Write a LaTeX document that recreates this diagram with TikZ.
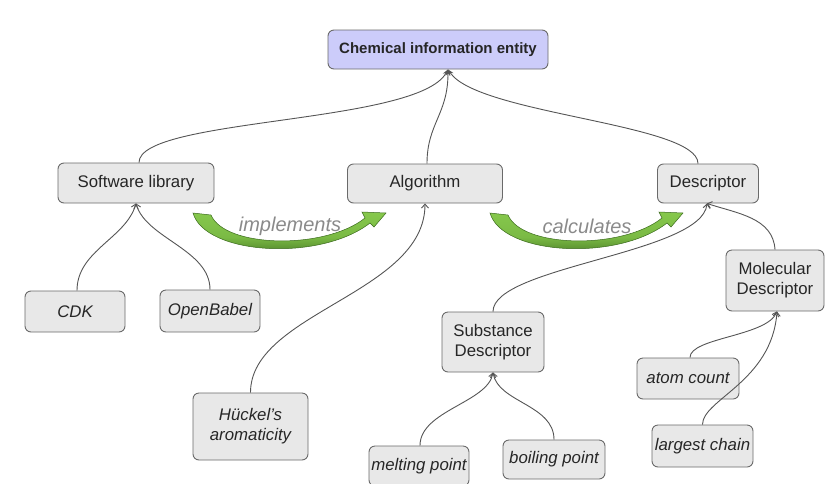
\documentclass[tikz,border=0pt]{standalone}
\usepackage{fontspec}
\setmainfont{Liberation Sans}
\usetikzlibrary{arrows.meta}
\definecolor{boxfill}{HTML}{E8E8E8}
\definecolor{boxline}{HTML}{6A6A6A}
\definecolor{chemfill}{HTML}{CCCCFA}
\definecolor{txt}{HTML}{262626}
\definecolor{lnk}{HTML}{555555}
\definecolor{gdark}{HTML}{3A6A1C}
\definecolor{glight}{HTML}{86C84C}
\definecolor{lbl}{HTML}{8A8A8A}
\tikzset{
  box/.style={draw=boxline, fill=boxfill, rounded corners=6pt, line width=0.9pt,
    text=txt, align=center, inner sep=1pt, font=\fontsize{16.8}{20}\selectfont},
  ibox/.style={box, font=\fontsize{16.8}{20}\selectfont\itshape},
  link/.style={draw=lnk, line width=0.9pt, -{Straight Barb[length=4pt,width=7pt]}},
  chemlink/.style={draw=lnk, line width=0.9pt, -{Stealth[length=6pt,width=5pt]}},
  greenarrow/.style={top color=glight, bottom color=gdark, middle color=glight!85!gdark, draw=gdark, line width=0.5pt},
  rellabel/.style={text=lbl, font=\fontsize{20}{24}\selectfont\itshape},
}
\begin{document}
\begin{tikzpicture}[x=1pt,y=-1pt]
\useasboundingbox (0,0) rectangle (825,483);

\node[box, fill=chemfill, font=\fontsize{15}{18}\selectfont\bfseries, minimum width=220pt, minimum height=39pt] (chem) at (438,49.5) {Chemical information entity};
\node[box, minimum width=156pt, minimum height=40pt] (sw) at (136,183) {Software library};
\node[box, minimum width=155pt, minimum height=39pt] (alg) at (425,183.5) {Algorithm};
\node[box, minimum width=101pt, minimum height=39pt] (desc) at (708,183.5) {Descriptor};
\node[ibox, minimum width=100pt, minimum height=41pt] (cdk) at (75,311.5) {CDK};
\node[ibox, minimum width=100pt, minimum height=42pt] (ob) at (210,311) {OpenBabel};
\node[ibox, minimum width=115pt, minimum height=67pt] (hk) at (250.5,426.5) {Hückel's\\aromaticity};
\node[box, minimum width=102pt, minimum height=60pt] (sub) at (493,342) {Substance\\Descriptor};
\node[ibox, minimum width=100pt, minimum height=40pt] (mp) at (419,466) {melting point};
\node[ibox, minimum width=102pt, minimum height=39pt] (bp) at (554,459.5) {boiling point};
\node[box, minimum width=98pt, minimum height=61pt] (mol) at (775,280.5) {Molecular\\Descriptor};
\node[ibox, minimum width=102pt, minimum height=41pt] (ac) at (688,378.5) {atom count};
\node[ibox, minimum width=101pt, minimum height=42pt] (lc) at (702.5,446) {largest chain};

\coordinate (chemtip) at ([xshift=10pt]chem.south);
\coordinate (desctip) at ([xshift=-1pt]desc.south);
\coordinate (subtip) at (sub.south);
\coordinate (moltip) at ([xshift=2pt]mol.south);

% to the top entity
\draw[chemlink] ([xshift=3pt]sw.north) .. controls +(0,-45) and +(-30,55) .. (chemtip);
\draw[chemlink] ([xshift=2pt]alg.north) .. controls +(0,-40) and +(0,45) .. (chemtip);
\draw[chemlink] ([xshift=-10pt]desc.north) .. controls +(0,-40) and +(30,45) .. (chemtip);

% to software library
\draw[link] ([xshift=2pt]cdk.north) .. controls +(0,-40) and +(-10,35) .. (sw.south);
\draw[link] (ob.north) .. controls +(0,-40) and +(10,35) .. (sw.south);

% to algorithm
\draw[link] (hk.north) .. controls +(0,-80) and +(0,90) .. (alg.south);

% to descriptor
\draw[link] (sub.north) .. controls +(0,-45) and +(-5,50) .. (desctip);
\draw[link] (mol.north) .. controls +(-2,-32) and +(30,10) .. (desctip);

% to substance descriptor
\draw[link] ([xshift=1pt]mp.north) .. controls +(0,-35) and +(-5,30) .. (subtip);
\draw[link] (bp.north) .. controls +(0,-35) and +(5,30) .. (subtip);

% to molecular descriptor
\draw[link] ([xshift=2pt]ac.north) .. controls +(0,-20) and +(-10,25) .. (moltip);
\draw[link] (lc.north) .. controls +(0,-25) and +(-5,70) .. (moltip);

% green relation arrows
\foreach \dx in {0,297}{
  \begin{scope}[xshift=\dx pt]
  \path[greenarrow] (193,213) -- (211,215) .. controls (225,248) and (325,250) .. (365,218)
     -- (362,212) -- (386,213) -- (374,227) -- (370,223)
     .. controls (320,262) and (205,255) .. (193,213) -- cycle;
  \end{scope}
}
\node[rellabel] (impl) at (290,226) {implements};
\node[rellabel] (calc) at (587,226) {calculates};
\end{tikzpicture}
\end{document}
